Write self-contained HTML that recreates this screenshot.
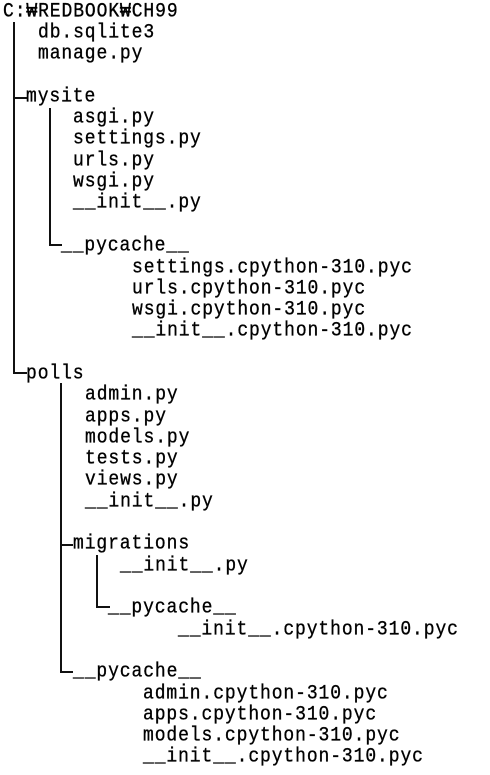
<!DOCTYPE html>
<html><head><meta charset="utf-8"><style>
html,body{margin:0;padding:0;background:#fff;}
body{width:490px;height:775px;position:relative;overflow:hidden;}
.t{position:absolute;font-family:"Liberation Mono","Noto Sans CJK KR",monospace;font-size:18px;letter-spacing:0.9px;line-height:20px;color:#000;white-space:pre;transform:scaleY(1.12);transform-origin:0 50%;-webkit-text-stroke:0.3px #000;}
.v{position:absolute;width:2px;background:#111;}
.h{position:absolute;height:2px;background:#111;}
</style></head><body>
<div class="t" style="left:3px;top:2px">C:₩REDBOOK₩CH99</div>
<div class="t" style="left:38px;top:23px">db.sqlite3</div>
<div class="t" style="left:38px;top:44px">manage.py</div>
<div class="t" style="left:26px;top:87px">mysite</div>
<div class="t" style="left:73px;top:108px">asgi.py</div>
<div class="t" style="left:73px;top:129px">settings.py</div>
<div class="t" style="left:73px;top:151px">urls.py</div>
<div class="t" style="left:73px;top:172px">wsgi.py</div>
<div class="t" style="left:73px;top:193px">__init__.py</div>
<div class="t" style="left:61px;top:236px">__pycache__</div>
<div class="t" style="left:132px;top:258px">settings.cpython-310.pyc</div>
<div class="t" style="left:132px;top:279px">urls.cpython-310.pyc</div>
<div class="t" style="left:132px;top:300px">wsgi.cpython-310.pyc</div>
<div class="t" style="left:132px;top:321px">__init__.cpython-310.pyc</div>
<div class="t" style="left:26px;top:364px">polls</div>
<div class="t" style="left:85px;top:385px">admin.py</div>
<div class="t" style="left:85px;top:407px">apps.py</div>
<div class="t" style="left:85px;top:428px">models.py</div>
<div class="t" style="left:85px;top:449px">tests.py</div>
<div class="t" style="left:85px;top:470px">views.py</div>
<div class="t" style="left:85px;top:492px">__init__.py</div>
<div class="t" style="left:73px;top:534px">migrations</div>
<div class="t" style="left:120px;top:556px">__init__.py</div>
<div class="t" style="left:108px;top:598px">__pycache__</div>
<div class="t" style="left:178px;top:620px">__init__.cpython-310.pyc</div>
<div class="t" style="left:73px;top:662px">__pycache__</div>
<div class="t" style="left:143px;top:684px">admin.cpython-310.pyc</div>
<div class="t" style="left:143px;top:705px">apps.cpython-310.pyc</div>
<div class="t" style="left:143px;top:726px">models.cpython-310.pyc</div>
<div class="t" style="left:143px;top:747px">__init__.cpython-310.pyc</div>

<div class="v" style="left:13px;top:22px;height:352px"></div>
<div class="h" style="left:13px;top:97px;width:14px"></div>
<div class="h" style="left:13px;top:372px;width:14px"></div>
<div class="v" style="left:49px;top:108px;height:138px"></div>
<div class="h" style="left:49px;top:244px;width:13px"></div>
<div class="v" style="left:60px;top:383px;height:290px"></div>
<div class="h" style="left:60px;top:544px;width:13px"></div>
<div class="h" style="left:60px;top:671px;width:13px"></div>
<div class="v" style="left:96px;top:555px;height:53px"></div>
<div class="h" style="left:96px;top:606px;width:14px"></div>
</body></html>
